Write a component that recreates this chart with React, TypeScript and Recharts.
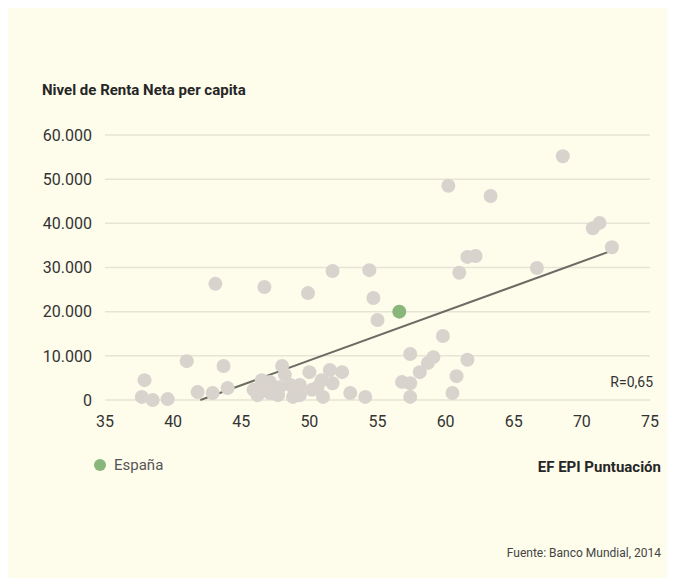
import React from "react";
import {
  ScatterChart,
  Scatter,
  XAxis,
  YAxis,
  CartesianGrid,
  ReferenceLine,
} from "recharts";

// EF EPI score vs net income per capita
const epiScores = [
  37.9, 37.7, 38.5, 39.6, 41.0, 41.8, 42.9, 43.1, 43.7, 44.0,
  45.9, 46.6, 46.7, 47.1, 46.5, 47.1, 47.8, 48.0, 48.2, 48.8,
  48.6, 49.3, 49.9, 50.0, 50.2, 50.6, 51.0, 50.9, 51.5, 51.7,
  51.7, 52.4, 53.0, 54.1, 54.4, 54.7, 55.0, 56.8, 57.4, 57.4,
  57.4, 58.1, 58.7, 59.1, 59.8, 60.2, 60.5, 60.8, 61.0, 61.6,
  61.6, 62.2, 63.3, 66.7, 68.6, 70.8, 71.3, 72.2, 46.2, 47.7,
  49.3,
];
const incomes = [
  4500, 700, 0, 200, 8800, 1800, 1600, 26300, 7700, 2700,
  2300, 2900, 25600, 1600, 4500, 4100, 2900, 7700, 5700, 700,
  3400, 3400, 24200, 6300, 2300, 2900, 700, 4500, 6800, 3800,
  29200, 6300, 1600, 700, 29400, 23100, 18100, 4100, 3800, 700,
  10400, 6300, 8400, 9700, 14500, 48500, 1600, 5400, 28800, 9100,
  32400, 32600, 46200, 29900, 55200, 38900, 40100, 34600, 1100, 1100,
  1100,
];
const spainScore = 56.6;
const spainIncome = 20000;
const trendStart = { x: 42.0, y: 0 };
const trendEnd = { x: 72.1, y: 33700 };

const xTicks = [35, 40, 45, 50, 55, 60, 65, 70, 75];
const yTicks = [0, 10000, 20000, 30000, 40000, 50000, 60000];

const countries = epiScores.map((x, i) => ({ x, y: incomes[i] }));
const spain = [{ x: spainScore, y: spainIncome }];

const FONT = "Roboto, 'DejaVu Sans', sans-serif";
const fmt = (v: number) =>
  v === 0 ? "0" : v.toLocaleString("de-DE", { useGrouping: true });

const dot = (color: string) => (props: any) =>
  <circle cx={props.cx} cy={props.cy} r={7} fill={color} />;

export default function App() {
  return (
    <div
      style={{
        position: "relative",
        width: 667,
        height: 570,
        background: "#FEFDEC",
        fontFamily: FONT,
      }}
    >
      <div
        style={{
          position: "absolute",
          left: 34,
          top: 73,
          fontSize: 15,
          fontWeight: 700,
          color: "#262626",
        }}
      >
        Nivel de Renta Neta per capita
      </div>
      <ScatterChart
        width={667}
        height={570}
        margin={{ top: 127, right: 25, bottom: 148, left: 27 }}
      >
        <CartesianGrid
          vertical={false}
          stroke="#E6E4D4"
          strokeWidth={1.5}
        />
        <XAxis
          type="number"
          dataKey="x"
          domain={[35, 75]}
          ticks={xTicks}
          axisLine={false}
          tickLine={false}
          tickMargin={10}
          height={30}
          tick={{ fill: "#333", fontSize: 16, fontFamily: FONT }}
        />
        <YAxis
          type="number"
          dataKey="y"
          domain={[0, 60000]}
          ticks={yTicks}
          axisLine={false}
          tickLine={false}
          tickMargin={7}
          width={70}
          tickFormatter={fmt}
          tick={{ fill: "#333", fontSize: 16, fontFamily: FONT }}
        />
        <Scatter
          data={countries}
          shape={dot("#D9D3CD")}
          isAnimationActive={false}
        />
        <Scatter
          data={spain}
          shape={dot("#89B67A")}
          isAnimationActive={false}
        />
        <ReferenceLine
          segment={[trendStart, trendEnd]}
          stroke="#6B6B64"
          strokeWidth={2}
          ifOverflow="visible"
        />
      </ScatterChart>
      <div
        style={{
          position: "absolute",
          right: 22,
          top: 366,
          fontSize: 14,
          color: "#333",
        }}
      >
        R=0,65
      </div>
      <div
        style={{
          position: "absolute",
          left: 86,
          top: 448,
          display: "flex",
          alignItems: "center",
          fontSize: 15,
          color: "#555",
        }}
      >
        <span
          style={{
            display: "inline-block",
            width: 12,
            height: 12,
            borderRadius: 6,
            background: "#89B67A",
            marginRight: 8,
          }}
        />
        España
      </div>
      <div
        style={{
          position: "absolute",
          right: 14,
          top: 450,
          fontSize: 15,
          fontWeight: 700,
          color: "#262626",
        }}
      >
        EF EPI Puntuación
      </div>
      <div
        style={{
          position: "absolute",
          right: 14,
          top: 538,
          fontSize: 12,
          color: "#444",
        }}
      >
        Fuente: Banco Mundial, 2014
      </div>
    </div>
  );
}
